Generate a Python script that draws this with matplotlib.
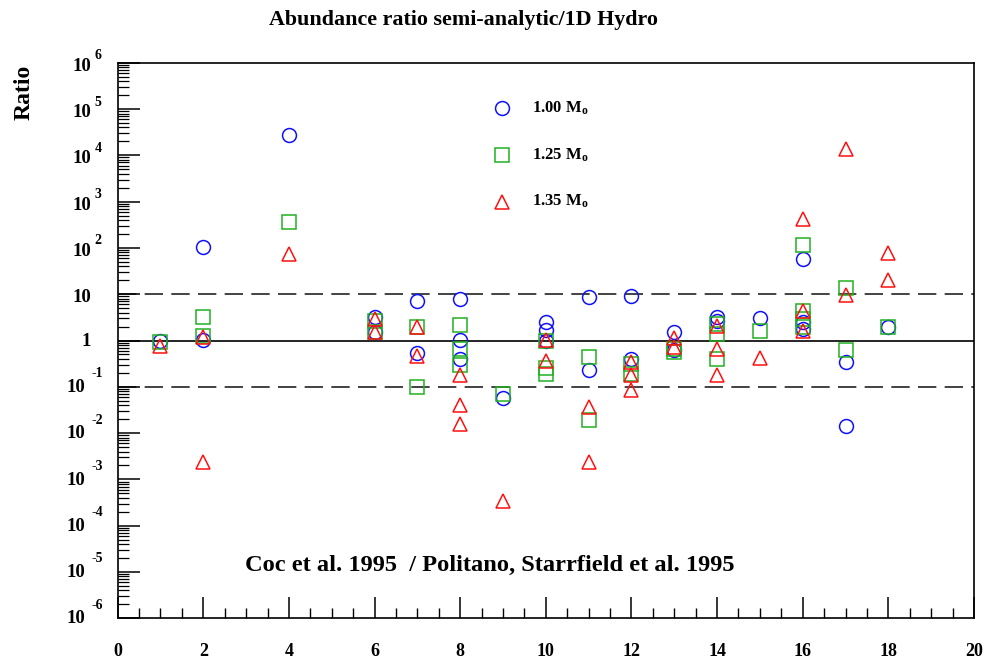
import matplotlib
matplotlib.use("Agg")
import matplotlib.pyplot as plt
from matplotlib.ticker import LogLocator, MultipleLocator, NullFormatter
import numpy as np

plt.rcParams['font.family'] = 'Liberation Serif'
plt.rcParams['font.weight'] = 'bold'
plt.rcParams['mathtext.fontset'] = 'custom'
plt.rcParams['mathtext.rm'] = 'Liberation Serif:bold'
plt.rcParams['mathtext.bf'] = 'Liberation Serif:bold'
plt.rcParams['mathtext.it'] = 'Liberation Serif:bold:italic'

# ratios, per isotope index
m100 = {1: [1.0], 2: [105, 1.05], 4: [27000], 6: [3.3, 1.5], 7: [7.3, 0.53],
        8: [7.9, 1.05, 0.39], 9: [0.058], 10: [2.5, 1.65, 1.0], 11: [8.6, 0.23],
        12: [9.1, 0.40], 13: [1.56, 0.62], 14: [3.2, 2.7], 15: [3.1],
        16: [58, 2.5, 1.8], 17: [0.34, 0.0146], 18: [2.0]}
m125 = {1: [0.95], 2: [3.3, 1.25], 4: [365], 6: [2.6, 1.55], 7: [1.94, 0.098],
        8: [2.2, 0.66, 0.29], 9: [0.07], 10: [1.0, 0.26, 0.19], 11: [0.45, 0.019],
        12: [0.31, 0.19], 13: [0.66, 0.56], 14: [2.3, 1.4, 0.40], 15: [1.6],
        16: [118, 4.3, 2.9, 2.0], 17: [13.8, 0.63], 18: [2.0]}
m135 = {1: [0.75], 2: [1.18, 0.0024], 4: [75], 6: [2.9, 1.5], 7: [1.94, 0.47],
        8: [0.18, 0.04, 0.016], 9: [3.5e-4], 10: [1.03, 0.37], 11: [0.037, 0.0024],
        12: [0.34, 0.18, 0.086], 13: [1.14, 0.72], 14: [2.1, 0.66, 0.18], 15: [0.41],
        16: [425, 4.4, 1.64], 17: [13800, 9.4], 18: [78, 20]}

series = [
    (m100, 'o', '#1010ff', r'1.00 M$_\mathrm{o}$'),
    (m125, 's', '#22b022', r'1.25 M$_\mathrm{o}$'),
    (m135, '^', '#ff1010', r'1.35 M$_\mathrm{o}$'),
]


def flatten(d):
    xs, ys = [], []
    for k, vals in d.items():
        for v in vals:
            xs.append(k)
            ys.append(v)
    return np.array(xs), np.array(ys)


fig = plt.figure(figsize=(9.83, 6.61), dpi=100)
ax = fig.add_axes([0.1197, 0.0646, 0.8711, 0.8405])

ax.set_yscale('log')
ax.set_xlim(0, 20)
ax.set_ylim(1e-6, 1e6)

# reference lines
ax.axhline(1, color='black', lw=1.2, zorder=1)
ax.axhline(10, color='#222222', lw=1.2, ls=(0, (11, 5)), zorder=1)
ax.axhline(0.1, color='#222222', lw=1.2, ls=(0, (11, 5)), zorder=1)

for d, mk, col, lab in series:
    xs, ys = flatten(d)
    ax.plot(xs, ys, ls='none', marker=mk, ms=10, mfc='none', mec=col, mew=1.1, zorder=3)

# axes style
for sp in ax.spines.values():
    sp.set_linewidth(1.2)
ax.xaxis.set_major_locator(MultipleLocator(2))
ax.xaxis.set_minor_locator(MultipleLocator(0.5))
ax.yaxis.set_major_locator(LogLocator(base=10, numticks=20))
ax.yaxis.set_minor_locator(LogLocator(base=10, subs=np.arange(2, 10), numticks=20))
ax.yaxis.set_major_formatter(NullFormatter())
ax.yaxis.set_minor_formatter(NullFormatter())
ax.tick_params(axis='x', which='major', direction='in', length=15, width=1.1,
               top=False, labelsize=13, pad=18)
ax.tick_params(axis='x', which='minor', direction='in', length=7.5, width=1.0, top=False)
ax.tick_params(axis='y', which='major', direction='in', length=16, width=1.1, right=False)
ax.tick_params(axis='y', which='minor', direction='in', length=8, width=0.9, right=False)
ax.set_xticklabels([str(int(t)) for t in ax.get_xticks()])

# ROOT style decade labels
for k in range(-6, 7):
    y = 10.0 ** k
    if k == 0:
        base, bx, by = '1', -19.5, -1.0
    elif k > 0:
        base, bx, by = '10', -19, -2.5
    else:
        base, bx, by = '10', -23, -0.5
    ax.annotate(base, xy=(0, y), xycoords=('axes fraction', 'data'),
                xytext=(bx, by), textcoords='offset points',
                ha='right', va='center', fontsize=13.5, fontweight='bold')
    if k not in (0, 1):
        ex, ey = (-16.5, 5.0) if k > 0 else (-19, 9.4)
        ax.annotate(str(k), xy=(0, y), xycoords=('axes fraction', 'data'),
                    xytext=(ex, ey), textcoords='offset points',
                    ha='left', va='center', fontsize=10, fontweight='bold')

# legend drawn by hand
for i, (d, mk, col, lab) in enumerate(series):
    yy = 0.918 - i * 0.084
    ax.plot([0.4488], [yy], transform=ax.transAxes, marker=mk, ms=10, mfc='none',
            mec=col, mew=1.1, ls='none', clip_on=False)
    ax.text(0.4835, yy, lab, transform=ax.transAxes, ha='left', va='center',
            fontsize=12, fontweight='bold')

fig.text(0.472, 0.969, 'Abundance ratio semi-analytic/1D Hydro', ha='center', va='center',
         fontsize=15.8, fontweight='bold')
fig.text(0.025, 0.861, 'Ratio', rotation=90, ha='center', va='center',
         fontsize=17, fontweight='bold')
fig.text(0.4985, 0.145, 'Coc et al. 1995  / Politano, Starrfield et al. 1995',
         ha='center', va='center', fontsize=17.6, fontweight='bold')

fig.savefig('out.png', dpi=100)
